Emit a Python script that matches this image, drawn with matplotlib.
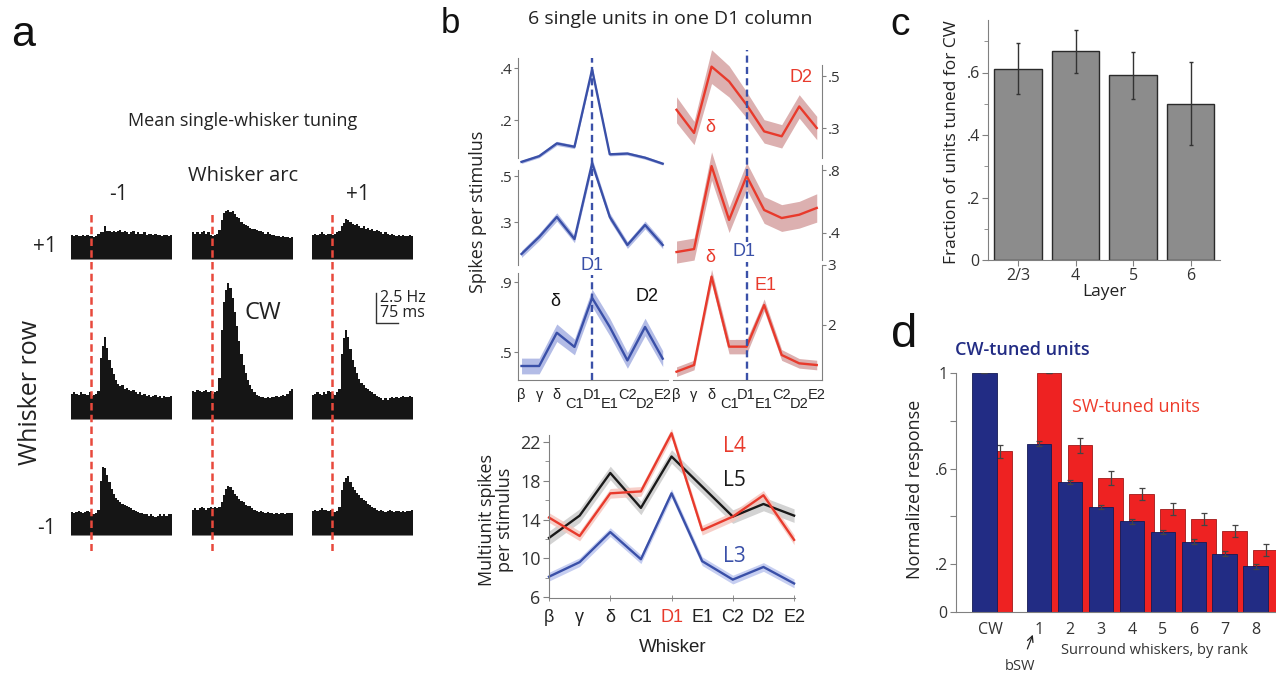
import numpy as np
import matplotlib
matplotlib.use("Agg")
import matplotlib.pyplot as plt
from matplotlib.transforms import offset_copy

MY = ['Open Sans', 'DejaVu Sans']
AR = ['Liberation Sans', 'DejaVu Sans']
plt.rcParams['font.family'] = MY

W, H = 1276, 675

# ---------------- data ----------------
# panel a: mean PSTHs (Hz), 7.5 ms bins, stimulus at t = 0
bin_ms = 7.5
t_start = -67.5
psth_up_left = [2.1, 2.0, 2.1, 2.0, 2.0, 2.1, 2.0, 2.1, 2.0, 2.0,
                1.9, 2.0, 2.2, 2.3, 2.3, 2.8, 2.4, 2.4, 2.3, 2.4,
                2.3, 2.4, 2.5, 2.3, 2.4, 2.3, 2.2, 2.3, 2.4, 2.2,
                2.3, 2.2, 2.2, 2.3, 2.1, 2.2, 2.2, 2.1, 2.2, 2.1,
                2.1, 2.0, 2.1, 2.1, 2.0, 2.1]
psth_up_mid = [2.3, 2.2, 2.3, 2.2, 2.3, 2.4, 2.2, 2.3, 2.1, 2.0,
               2.1, 2.2, 2.5, 3.3, 3.9, 4.1, 4.2, 4.0, 4.1, 3.8,
               3.6, 3.5, 3.2, 3.0, 2.9, 2.8, 2.7, 2.6, 2.6, 2.5,
               2.4, 2.4, 2.3, 2.2, 2.3, 2.2, 2.1, 2.1, 2.0, 2.0,
               1.9, 2.0, 1.9, 1.9, 1.8, 1.9]
psth_up_right = [2.1, 2.2, 2.1, 2.2, 2.3, 2.2, 2.1, 2.2, 2.2, 2.1,
                 2.2, 2.3, 2.4, 2.8, 3.1, 3.4, 3.3, 3.2, 3.0, 2.9,
                 3.0, 2.8, 2.7, 2.8, 2.6, 2.7, 2.5, 2.6, 2.4, 2.5,
                 2.4, 2.3, 2.2, 2.3, 2.2, 2.1, 2.2, 2.1, 2.0, 2.1,
                 2.0, 2.1, 2.0, 2.0, 2.1, 2.0]
psth_mid_left = [2.2, 2.3, 2.2, 2.1, 2.3, 2.2, 2.2, 2.1, 2.3, 2.0,
                 2.1, 2.2, 2.4, 5.2, 6.2, 6.9, 6.0, 5.0, 4.3, 3.8,
                 3.3, 3.0, 2.8, 2.9, 2.6, 2.7, 2.5, 2.4, 2.5, 2.3,
                 2.2, 2.3, 2.1, 2.2, 2.0, 2.1, 1.9, 2.0, 2.1, 1.9,
                 2.0, 1.8, 2.0, 1.9, 1.9, 2.0]
psth_cw = [2.4, 2.3, 2.5, 2.4, 2.3, 2.4, 2.5, 2.3, 2.4, 2.2,
           2.3, 2.4, 3.5, 7.5, 9.8, 10.8, 11.4, 11.0, 10.2, 9.0,
           7.8, 6.6, 5.5, 4.6, 3.9, 3.3, 2.9, 2.6, 2.3, 2.1,
           2.0, 1.9, 1.9, 1.8, 1.9, 1.8, 1.9, 1.9, 2.0, 1.9,
           2.0, 2.1, 2.0, 2.2, 2.4, 2.6]
psth_mid_right = [2.1, 2.2, 2.3, 2.2, 2.1, 2.3, 2.2, 2.4, 2.3, 2.2,
                  2.1, 2.3, 2.6, 5.5, 6.8, 7.5, 6.9, 5.9, 5.0, 4.4,
                  3.9, 3.4, 3.1, 2.9, 2.7, 2.6, 2.4, 2.3, 2.2, 2.0,
                  1.9, 1.8, 1.7, 1.8, 1.7, 1.8, 1.9, 1.8, 1.9, 1.8,
                  1.9, 2.0, 1.9, 1.9, 2.0, 1.9]
psth_down_left = [2.0, 1.9, 2.0, 2.1, 2.0, 1.9, 2.0, 2.1, 2.0, 1.8,
                  1.8, 1.9, 2.2, 4.6, 5.75, 5.7, 5.1, 4.5, 3.9, 3.5,
                  3.2, 3.0, 2.8, 2.7, 2.6, 2.5, 2.4, 2.3, 2.2, 2.1,
                  2.0, 1.9, 1.9, 1.8, 1.8, 1.7, 1.8, 1.7, 1.6, 1.7,
                  1.8, 1.7, 1.8, 1.7, 1.8, 1.8]
psth_down_mid = [2.2, 2.3, 2.2, 2.3, 2.4, 2.3, 2.2, 2.3, 2.4, 2.3,
                 2.4, 2.3, 2.4, 2.8, 3.4, 3.9, 4.2, 4.1, 3.8, 3.5,
                 3.3, 3.1, 2.9, 2.8, 2.6, 2.5, 2.5, 2.3, 2.2, 2.1,
                 2.0, 2.1, 2.0, 1.9, 2.0, 1.9, 1.9, 1.8, 1.9, 1.8,
                 1.9, 1.9, 1.8, 1.9, 1.9, 1.9]
psth_down_right = [2.1, 2.2, 2.1, 2.2, 2.3, 2.2, 2.2, 2.1, 2.2, 2.0,
                   2.0, 2.1, 2.4, 3.8, 4.5, 4.8, 5.0, 4.5, 4.1, 3.8,
                   3.6, 3.4, 3.2, 3.0, 2.9, 2.7, 2.6, 2.4, 2.3, 2.2,
                   2.1, 2.2, 2.1, 2.0, 2.1, 2.2, 2.1, 2.0, 2.1, 2.1,
                   2.0, 2.1, 2.0, 2.1, 2.1, 2.2]
psth_grid = [[psth_up_left, psth_up_mid, psth_up_right],
             [psth_mid_left, psth_cw, psth_mid_right],
             [psth_down_left, psth_down_mid, psth_down_right]]

# panel b: single units (spikes per stimulus), mean and sem
whiskers = ['β', 'γ', 'δ', 'C1', 'D1', 'E1', 'C2', 'D2', 'E2']
unit_l1 = [0.039, 0.061, 0.110, 0.097, 0.394, 0.068, 0.071, 0.055, 0.032]
sem_l1 = [0.006, 0.006, 0.008, 0.007, 0.012, 0.006, 0.006, 0.006, 0.005]
unit_l2 = [0.161, 0.235, 0.322, 0.226, 0.556, 0.322, 0.200, 0.287, 0.200]
sem_l2 = [0.015, 0.016, 0.018, 0.016, 0.020, 0.017, 0.015, 0.017, 0.016]
unit_l3 = [0.420, 0.420, 0.610, 0.529, 0.809, 0.643, 0.452, 0.643, 0.462]
sem_l3 = [0.045, 0.045, 0.050, 0.045, 0.050, 0.050, 0.045, 0.050, 0.045]
unit_r1 = [0.370, 0.281, 0.536, 0.479, 0.389, 0.287, 0.268, 0.383, 0.300]
sem_r1 = [0.050, 0.045, 0.065, 0.060, 0.050, 0.045, 0.045, 0.045, 0.045]
unit_r2 = [0.279, 0.298, 0.825, 0.483, 0.762, 0.546, 0.495, 0.516, 0.559]
sem_r2 = [0.070, 0.070, 0.090, 0.080, 0.085, 0.085, 0.085, 0.085, 0.090]
unit_r3 = [1.222, 1.333, 2.806, 1.639, 1.639, 2.333, 1.500, 1.361, 1.333]
sem_r3 = [0.080, 0.080, 0.120, 0.120, 0.120, 0.100, 0.090, 0.080, 0.080]

# panel b bottom: multiunit by layer
mu_l4 = [14.2, 12.3, 16.7, 16.9, 22.9, 12.9, 14.3, 16.5, 11.9]
mu_l4_sem = [0.5, 0.5, 0.5, 0.5, 0.5, 0.5, 0.5, 0.5, 0.5]
mu_l5 = [12.1, 14.4, 18.8, 15.2, 20.5, 17.4, 14.3, 15.6, 14.4]
mu_l5_sem = [0.7, 0.7, 0.7, 0.7, 0.7, 0.7, 0.7, 0.7, 0.7]
mu_l3 = [8.1, 9.6, 12.7, 9.9, 16.7, 9.7, 7.8, 9.1, 7.4]
mu_l3_sem = [0.45, 0.45, 0.45, 0.45, 0.45, 0.45, 0.45, 0.45, 0.45]

# panel c
layers = ['2/3', '4', '5', '6']
frac_cw = [0.611, 0.669, 0.591, 0.499]
frac_lo = [0.530, 0.600, 0.516, 0.367]
frac_hi = [0.693, 0.736, 0.667, 0.635]

# panel d
rank_labels = ['CW', '1', '2', '3', '4', '5', '6', '7', '8']
cw_tuned = [1.0, 0.704, 0.544, 0.439, 0.379, 0.335, 0.294, 0.244, 0.191]
cw_tuned_err = [0, 0.010, 0.010, 0.010, 0.010, 0.010, 0.010, 0.010, 0.010]
sw_tuned = [0.672, 1.0, 0.697, 0.562, 0.492, 0.432, 0.388, 0.338, 0.258]
sw_tuned_err = [0.028, 0, 0.030, 0.030, 0.025, 0.025, 0.025, 0.025, 0.025]

# ---------------- layout helpers (pixel coords, top-left origin) ----------------
fig = plt.figure(figsize=(W / 100, H / 100), dpi=100)


def box(x0, y0, x1, y1):
    return fig.add_axes([x0 / W, 1 - y1 / H, (x1 - x0) / W, (y1 - y0) / H])


def ftext(x, y, s, **kw):
    kw.setdefault('ha', 'center')
    kw.setdefault('va', 'center')
    return fig.text(x / W, 1 - y / H, s, **kw)


def fmt(v):
    s = f'{v:g}'
    return s[1:] if s.startswith('0.') else s


# ---------------- panel a ----------------
col_px = [(71, 172), (192, 293), (312, 413)]
row_bottom = [260, 420, 536]
row_hz = [5.0, 12.5, 7.5]
px_per_hz = 12.0
t_end = t_start + bin_ms * len(psth_cw)
px_per_ms = (col_px[0][1] - col_px[0][0]) / (t_end - t_start)

for r in range(3):
    for c in range(3):
        vals = psth_grid[r][c]
        x0, x1 = col_px[c]
        ax = box(x0, row_bottom[r] - row_hz[r] * px_per_hz, x1, row_bottom[r])
        edges = t_start + bin_ms * np.arange(len(vals) + 1)
        ax.stairs(vals, edges, fill=True, color='#151515', lw=0)
        ax.axhline(0, color='#9a9a9a', lw=1.2)
        ax.set_xlim(t_start, t_end)
        ax.set_ylim(0, row_hz[r])
        ax.axis('off')

# stimulus onset lines
for x0, x1 in col_px:
    ov = box(x0, 212, x1, 551)
    ov.set_xlim(t_start, t_end)
    ov.axvline(0, color='#e8493c', lw=1.8, ls=(0, (3, 1.7)))
    ov.axis('off')

# scale bar: 2.5 Hz, 75 ms
sb = box(376, 323 - 2.5 * px_per_hz, 376 + 75 * px_per_ms, 323)
sb.plot([0, 0, 75], [2.5, 0, 0], color='#333333', lw=1.0, clip_on=False)
sb.set_xlim(0, 75)
sb.set_ylim(0, 2.5)
sb.axis('off')
ftext(380, 298, '2.5 Hz', ha='left', fontsize=11.5, color='#222')
ftext(380, 313, '75 ms', ha='left', fontsize=11.5, color='#222')

ftext(11, 46, 'a', ha='left', va='baseline', fontsize=31, family=AR, color='#111')
ftext(243, 121, 'Mean single-whisker tuning', fontsize=13, color='#222')
ftext(243, 176, 'Whisker arc', fontsize=14.5, color='#222')
ftext(118, 195, '-1', fontsize=15, color='#222')
ftext(358, 195, '+1', fontsize=15, color='#222')
ftext(45, 246, '+1', fontsize=15, color='#222')
ftext(47, 529, '-1', fontsize=15, color='#222')
ftext(31, 392, 'Whisker row', rotation=90, fontsize=18, color='#222')
ftext(263, 313, 'CW', fontsize=17, color='#222')

# ---------------- panel b (single units) ----------------
BLUE_L, BLUE_B = '#3a50a8', '#b3bce6'
RED_L, RED_B = '#e83a2c', '#dcb0b0'
xw = np.arange(len(whiskers))
col_b = {'left': (518, 668), 'right': (673, 822)}
unit_specs = [
    (unit_l1, sem_l1, 'left', 58, 158, (68, .4), (120, .2), [.2, .4]),
    (unit_l2, sem_l2, 'left', 170, 265, (176, .5), (222, .3), [.3, .5]),
    (unit_l3, sem_l3, 'left', 273, 380, (282, .9), (352, .5), [.5, .9]),
    (unit_r1, sem_r1, 'right', 65, 158, (76, .5), (128, .3), [.3, .5]),
    (unit_r2, sem_r2, 'right', 165, 260, (170, .8), (233, .4), [.4, .8]),
    (unit_r3, sem_r3, 'right', 265, 380, (265, 3), (325, 2), [2, 3]),
]
bottom_axes = {}
for vals, sems, side, top, bot, (pa, va), (pb, vb), ticks in unit_specs:
    x0, x1 = col_b[side]
    ax = box(x0, top, x1, bot)
    s = (va - vb) / (pb - pa)
    ax.set_ylim(va - (bot - pa) * s, va + (pa - top) * s)
    ax.set_xlim(-0.2, 8.3)
    v = np.array(vals)
    e = np.array(sems)
    lc, bc = (BLUE_L, BLUE_B) if side == 'left' else (RED_L, RED_B)
    ax.fill_between(xw, v - e, v + e, color=bc, lw=0, clip_on=False)
    ax.plot(xw, v, color=lc, lw=1.7, clip_on=False)
    for sp in ax.spines.values():
        sp.set_visible(False)
    ax.spines[side].set_visible(True)
    ax.spines[side].set_color('#808080')
    if side == 'right':
        ax.yaxis.tick_right()
    ax.set_yticks(ticks, labels=[fmt(t) for t in ticks])
    ax.tick_params(axis='y', length=3, width=0.8, color='#808080', labelsize=11,
                   labelcolor='#333', pad=1)
    ax.set_xticks([])
    ax.patch.set_visible(False)
    if bot == 380:
        ax.spines['bottom'].set_visible(True)
        ax.spines['bottom'].set_color('#808080')
        bottom_axes[side] = ax

# staggered whisker labels under the single-unit columns
for side, ax in bottom_axes.items():
    for i, w in enumerate(whiskers):
        dy = 24 if i in (3, 5, 7) else 15
        tr = offset_copy(ax.get_xaxis_transform(), fig=fig, y=-dy, units='dots')
        ax.text(i, 0, w, transform=tr, ha='center', va='center', fontsize=10.5,
                family=AR, color='#222')

# D1 column markers
for side, top in (('left', 58), ('right', 50)):
    x0, x1 = col_b[side]
    ov = box(x0, top, x1, 380)
    ov.set_xlim(-0.2, 8.3)
    ov.axvline(whiskers.index('D1'), color=BLUE_L, lw=1.7, ls=(0, (3, 1.8)))
    ov.axis('off')

wbox = dict(facecolor='white', edgecolor='none', pad=1.0)
ftext(592, 265, 'D1', fontsize=13, family=AR, color=BLUE_L, bbox=wbox)
ftext(744, 252, 'D1', fontsize=13, family=AR, color=BLUE_L, bbox=wbox)
ftext(555, 301, 'δ', fontsize=13, family=AR, color='#111')
ftext(647, 297, 'D2', fontsize=13, family=AR, color='#111')
ftext(710, 128, 'δ', fontsize=13, family=AR, color=RED_L)
ftext(801, 78, 'D2', fontsize=13, family=AR, color=RED_L)
ftext(710, 258, 'δ', fontsize=13, family=AR, color=RED_L)
ftext(765, 285, 'E1', fontsize=13, family=AR, color=RED_L)

ftext(441, 33, 'b', ha='left', va='baseline', fontsize=25, family=AR, color='#111')
ftext(670, 19, '6 single units in one D1 column', fontsize=14, color='#222')
ftext(478, 212, 'Spikes per stimulus', rotation=90, fontsize=13, color='#222')

# ---------------- panel b (multiunit) ----------------
ax = box(549, 435, 795, 598)
ax.set_xlim(0, 8.03)
ax.set_ylim(5.9, 22.72)
for vals, sems, lc, bc in ((mu_l3, mu_l3_sem, BLUE_L, '#b8c2ee'),
                           (mu_l5, mu_l5_sem, '#1a1a1a', '#c8c8c8'),
                           (mu_l4, mu_l4_sem, RED_L, '#f6c4bc')):
    v = np.array(vals)
    e = np.array(sems)
    ax.fill_between(xw, v - e, v + e, color=bc, lw=0, alpha=0.8, clip_on=False)
    ax.plot(xw, v, color=lc, lw=1.7, clip_on=False)
for sp in ('top', 'right'):
    ax.spines[sp].set_visible(False)
for sp in ('left', 'bottom'):
    ax.spines[sp].set_color('#808080')
ax.set_yticks([6, 10, 14, 18, 22])
ax.set_yticks([8, 12, 16, 20], minor=True)
ax.tick_params(axis='y', which='both', color='#808080', labelsize=13, labelcolor='#333', pad=2)
ax.tick_params(axis='y', which='major', length=4)
ax.tick_params(axis='y', which='minor', length=3)
ax.xaxis.remove_overlapping_locs = False
ax.set_xticks(xw, labels=whiskers, family=AR)
ax.set_xticks([0, 2, 4, 6, 8], minor=True)
ax.tick_params(axis='x', which='major', length=0, labelsize=13, labelcolor='#222', pad=8)
ax.tick_params(axis='x', which='minor', length=4, color='#808080', direction='inout')
ax.get_xticklabels()[whiskers.index('D1')].set_color(RED_L)
ax.patch.set_visible(False)
ftext(673, 648, 'Whisker', fontsize=13.5, family=AR, color='#222')
ftext(496, 520, 'Multiunit spikes\nper stimulus', rotation=90, fontsize=13,
      color='#222', linespacing=1.0)
ftext(723, 447, 'L4', ha='left', fontsize=15, color=RED_L)
ftext(723, 480, 'L5', ha='left', fontsize=15, color='#1a1a1a')
ftext(723, 557, 'L3', ha='left', fontsize=15, color=BLUE_L)

# ---------------- panel c ----------------
ax = box(988, 20, 1220, 260)
xl = np.arange(len(layers))
f = np.array(frac_cw)
ax.bar(xl, f, width=0.82, color='#8c8c8c', edgecolor='#2a2a2a', lw=1.0)
ax.errorbar(xl, f, yerr=[f - np.array(frac_lo), np.array(frac_hi) - f], fmt='none',
            ecolor='#333', elinewidth=1.0, capsize=1.5, capthick=1.0)
ax.set_xlim(-0.52, 3.51)
ax.set_ylim(0, 0.768)
for sp in ('top', 'right'):
    ax.spines[sp].set_visible(False)
for sp in ('left', 'bottom'):
    ax.spines[sp].set_color('#808080')
ax.set_yticks([0, .2, .4, .6], labels=['0', '.2', '.4', '.6'])
ax.set_yticks([.1, .3, .5, .7], minor=True)
ax.set_xticks(xl, labels=layers)
ax.tick_params(which='both', color='#808080', labelsize=11.5, labelcolor='#333', pad=2)
ax.tick_params(which='major', length=4)
ax.tick_params(which='minor', length=3)
ax.set_xlabel('Layer', fontsize=12.5, color='#222', labelpad=0)
ftext(952, 142, 'Fraction of units tuned for CW', rotation=90, fontsize=12.5, color='#222')
ftext(890, 35, 'c', ha='left', va='baseline', fontsize=28, family=AR, color='#111')

# ---------------- panel d ----------------
NAVY, RED_D = '#222c84', '#ee2222'
ax = box(956, 373, 1276, 612)
pos_cw_tuned = np.array([-0.76, 1, 2, 3, 4, 5, 6, 7, 8])
pos_sw_tuned = np.array([-0.27, 1.32, 2.32, 3.32, 4.32, 5.32, 6.32, 7.32, 8.32])
pos_ticks = np.array([-0.58, 1, 2, 3, 4, 5, 6, 7, 8])
ax.bar(pos_sw_tuned, sw_tuned, width=0.8, color=RED_D, edgecolor='#a01818', lw=0.6,
       zorder=1)
ax.errorbar(pos_sw_tuned, sw_tuned, yerr=sw_tuned_err, fmt='none', ecolor='#444',
            elinewidth=0.9, capsize=2, capthick=0.9, zorder=1.5)
ax.bar(pos_cw_tuned, cw_tuned, width=0.8, color=NAVY, edgecolor='#141a55', lw=0.6,
       zorder=2)
ax.errorbar(pos_cw_tuned, cw_tuned, yerr=cw_tuned_err, fmt='none', ecolor='#444',
            elinewidth=0.9, capsize=2, capthick=0.9, zorder=2.5)
ax.set_xlim(-1.68, 8.65)
ax.set_ylim(0, 1)
for sp in ('top', 'right'):
    ax.spines[sp].set_visible(False)
for sp in ('left', 'bottom'):
    ax.spines[sp].set_color('#808080')
ax.set_yticks([0, .2, .4, .6, .8, 1], labels=['0', '.2', '', '.6', '', '1'])
ax.tick_params(axis='y', length=4, color='#808080', labelsize=11.5, labelcolor='#333', pad=2)
ax.set_xticks(pos_ticks, labels=rank_labels)
ax.tick_params(axis='x', length=0, labelsize=11.5, labelcolor='#333', pad=7)
ax.annotate('bSW', xy=(0.8, -0.095), xytext=(0.4, -0.23), textcoords='data',
            annotation_clip=False, ha='center', va='center', fontsize=10.5, color='#333',
            arrowprops=dict(arrowstyle='->', color='#222', lw=0.9, shrinkA=6, shrinkB=0))
ftext(1154, 650, 'Surround whiskers, by rank', fontsize=10.5, color='#333')
ftext(915, 489, 'Normalized response', rotation=90, fontsize=13, color='#222')
ftext(955, 350, 'CW-tuned units', ha='left', fontsize=13, fontweight='semibold', color=NAVY)
ftext(1072, 407, 'SW-tuned units', ha='left', fontsize=13, color='#ee3b2b')
ftext(891, 347, 'd', ha='left', va='baseline', fontsize=34, family=AR, color='#111')

fig.savefig('out.png', dpi=100)
